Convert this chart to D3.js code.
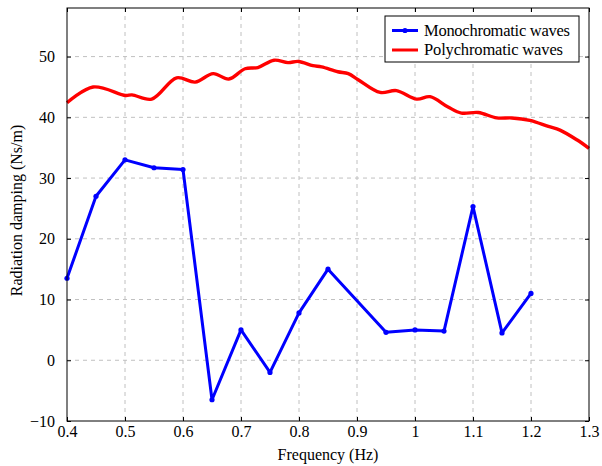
<!DOCTYPE html>
<html><head><meta charset="utf-8">
<script src="https://cdn.jsdelivr.net/npm/d3@7"></script>
<style>body{margin:0;background:#fff}svg{display:block}text{font-family:"Liberation Serif","DejaVu Serif",serif;fill:#000}</style>
</head><body><svg id="c" width="602" height="466"></svg>
<script>
const monoFreq = [0.40,0.45,0.50,0.55,0.60,0.65,0.70,0.75,0.80,0.85,0.95,1.00,1.05,1.10,1.15,1.20];
const monoVal  = [13.5,27.0,33.0,31.7,31.4,-6.5,5.0,-2.0,7.8,15.0,4.6,5.0,4.8,25.3,4.5,11.0];
const polyFreq = [0.400,0.445,0.501,0.512,0.546,0.589,0.621,0.652,0.679,0.707,0.729,0.757,0.781,0.799,0.824,0.839,0.867,0.885,0.902,0.940,0.968,1.003,1.026,1.057,1.080,1.109,1.141,1.167,1.198,1.230,1.250,1.279,1.300];
const polyVal  = [42.4,45.0,43.6,43.7,43.0,46.5,45.8,47.2,46.3,48.0,48.2,49.4,49.0,49.2,48.5,48.3,47.5,47.2,46.2,44.1,44.4,43.0,43.4,41.7,40.7,40.8,39.9,39.9,39.5,38.5,37.9,36.3,34.9];
const xTicks = [0.4,0.5,0.6,0.7,0.8,0.9,1.0,1.1,1.2,1.3];
const yTicks = [-10,0,10,20,30,40,50];
const seriesNames = ["Monochromatic waves","Polychromatic waves"];

const L=67,R=589,T=8,B=421;
const svg=d3.select("#c");
const x=d3.scaleLinear().domain([0.4,1.3]).range([L,R]);
const y=d3.scaleLinear().domain([-10,58]).range([B,T]);

const grid=svg.append("g").attr("stroke","#c0c0c0").attr("stroke-width",1).attr("stroke-dasharray","4,4");
xTicks.slice(1,-1).forEach(t=>grid.append("line").attr("x1",x(t)).attr("x2",x(t)).attr("y1",T).attr("y2",B));
yTicks.slice(1).forEach(t=>grid.append("line").attr("x1",L).attr("x2",R).attr("y1",y(t)).attr("y2",y(t)));

const fmt=t=>(t<0?"\u2212":"")+Math.abs(t);
const xAxis=d3.axisBottom(x).tickValues(xTicks).tickSize(-4).tickPadding(5).tickFormat(d=>d===1?"1":d3.format(".1f")(d));
const gx=svg.append("g").attr("transform",`translate(0,${B})`).call(xAxis);
const yAxis=d3.axisLeft(y).tickValues(yTicks).tickSize(-4).tickPadding(12).tickFormat(fmt);
const gy=svg.append("g").attr("transform",`translate(${L},0)`).call(yAxis);
svg.append("g").attr("transform",`translate(0,${T})`).call(d3.axisTop(x).tickValues(xTicks).tickSize(-4).tickFormat(""));
svg.append("g").attr("transform",`translate(${R},0)`).call(d3.axisRight(y).tickValues(yTicks).tickSize(-4).tickFormat(""));
svg.selectAll(".domain").remove();
svg.selectAll(".tick line").attr("stroke","#000");
[gx,gy].forEach(g=>g.selectAll("text").attr("font-size",16).attr("font-family","Liberation Serif, serif"));

const polyData=polyFreq.map((f,i)=>[f,polyVal[i]]);
const monoData=monoFreq.map((f,i)=>[f,monoVal[i]]);
svg.append("path").datum(polyData).attr("fill","none").attr("stroke","#ff0000").attr("stroke-width",3.4)
 .attr("d",d3.line().x(d=>x(d[0])).y(d=>y(d[1])).curve(d3.curveCatmullRom.alpha(0.5)));
svg.append("path").datum(monoData).attr("fill","none").attr("stroke","#0000ff").attr("stroke-width",3)
 .attr("stroke-linejoin","round").attr("d",d3.line().x(d=>x(d[0])).y(d=>y(d[1])));
svg.append("g").selectAll("circle").data(monoData).join("circle")
 .attr("cx",d=>x(d[0])).attr("cy",d=>y(d[1])).attr("r",2.6).attr("fill","#0000ff");

svg.append("rect").attr("x",L).attr("y",T).attr("width",R-L).attr("height",B-T).attr("fill","none").attr("stroke","#000").attr("stroke-width",1);

// legend
const lg=svg.append("g");
lg.append("rect").attr("x",385).attr("y",16).attr("width",194).attr("height",46).attr("fill","#fff").attr("stroke","#000").attr("stroke-width",1);
const cols=["#0000ff","#ff0000"];
seriesNames.forEach((n,i)=>{
  const yy=30.5+i*19.5;
  lg.append("line").attr("x1",392).attr("x2",418).attr("y1",yy).attr("y2",yy).attr("stroke",cols[i]).attr("stroke-width",3);
  if(i===0) lg.append("circle").attr("cx",405).attr("cy",yy).attr("r",2.6).attr("fill",cols[i]);
  lg.append("text").attr("x",424).attr("y",yy+5).attr("font-size",16.5)
    .attr("textLength",i===0?146:139).attr("lengthAdjust","spacing").text(n);
});

svg.append("text").attr("x",(L+R)/2).attr("y",460).attr("text-anchor","middle").attr("font-size",16).text("Frequency (Hz)");
svg.append("text").attr("transform",`translate(22,${(T+B)/2-4}) rotate(-90)`).attr("text-anchor","middle").attr("font-size",16).text("Radiation damping (Ns/m)");
</script></body></html>
